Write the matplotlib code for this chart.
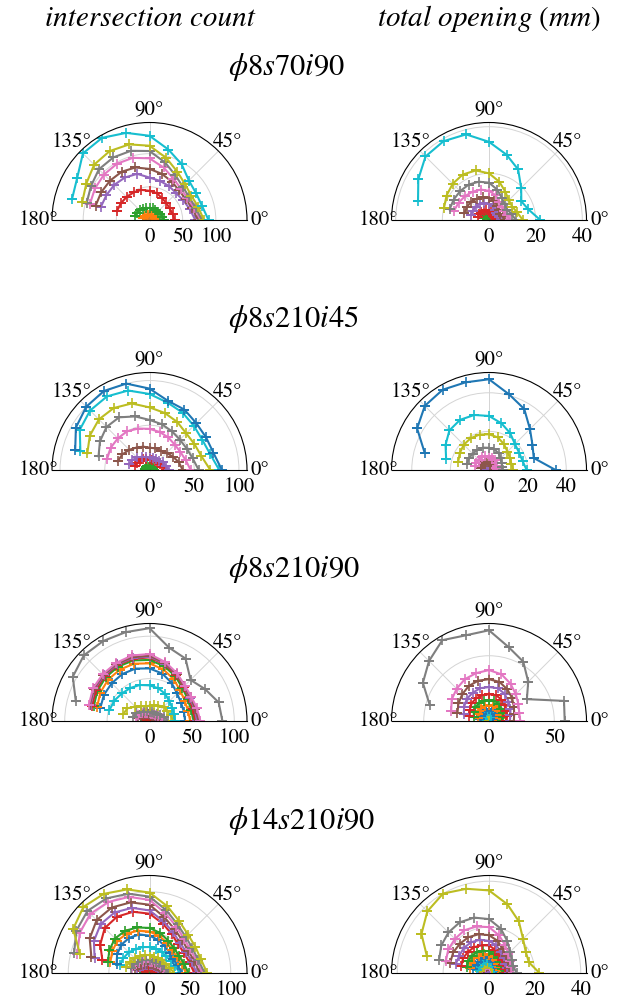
import numpy as np
import matplotlib
matplotlib.use("Agg")
import matplotlib.pyplot as plt

plt.rcParams['font.family'] = ['STIXGeneral', 'DejaVu Serif']
plt.rcParams['mathtext.fontset'] = 'stix'

# orientations of the scan lines (deg)
theta_deg = [0, 15, 30, 45, 60, 75, 90, 105, 120, 135, 150, 165]

col_titles = ['intersection count', 'total opening $(mm)$']
row_titles = [r'$\phi8s70i90$', r'$\phi8s210i45$', r'$\phi8s210i90$', r'$\phi14s210i90$']

# --- phi8 s70 i90 ---
count_8s70i90 = [
    [4, 4, 3, 3, 3, 3, 3, 4, 4, 4, 4, 4],
    [10, 9, 9, 8, 8, 8, 8, 8, 9, 9, 10, 10],
    [22, 20, 19, 18, 18, 18, 18, 19, 20, 21, 22, 23],
    [38, 36, 35, 36, 38, 42, 44, 47, 48, 49, 50, 51],
    [69, 63, 59, 57, 59, 61, 64, 72, 74, 75, 75, 76],
    [73, 67, 63, 63, 67, 72, 77, 82, 84, 84, 84, 84],
    [77, 70, 66, 67, 72, 82, 93, 97, 98, 97, 95, 93],
    [79, 72, 69, 71, 78, 90, 104, 108, 109, 108, 102, 98],
    [82, 76, 73, 76, 84, 97, 112, 118, 120, 118, 110, 105],
    [89, 82, 81, 84, 97, 110, 127, 136, 143, 142, 126, 121],
]
open_8s70i90 = [
    [0.5, 0.5, 0.5, 0.5, 0.5, 0.5, 0.5, 0.5, 0.5, 0.5, 0.5, 0.5],
    [1, 1, 1, 1, 1, 1, 1, 1, 1, 1, 1, 1],
    [1.5, 1.5, 1.5, 1.5, 1.5, 2, 2, 2, 2, 2.5, 2.5, 2.5],
    [3, 2.5, 2.5, 2.5, 3, 3.5, 4, 4.5, 4.5, 5, 5, 5],
    [5, 4.5, 4, 4.5, 5, 6, 7, 7.5, 8, 8, 8, 8],
    [7, 6, 5.5, 6, 7, 8.5, 9.5, 10, 10.5, 11, 11, 11],
    [9, 8, 7.5, 8, 9, 11, 12.5, 13.5, 14, 14.5, 15, 15.5],
    [11.5, 10, 9, 9.5, 11, 13.5, 16, 17, 17.5, 17.5, 17.5, 17.5],
    [14.5, 12.5, 11.5, 12, 14, 17, 20, 22, 22.5, 22, 21, 20],
    [22, 17.5, 16, 19.5, 25, 29, 33.5, 38, 39, 38.5, 35, 31.5],
]

# --- phi8 s210 i45 ---
count_8s210i45 = [
    [1, 1, 1, 1, 1, 1, 1, 1, 1, 1, 1, 1],
    [2, 2, 2, 2, 2, 2, 2, 2, 2, 2, 2, 2],
    [5, 4, 4, 4, 4, 4, 4, 4, 5, 5, 5, 5],
    [18, 15, 13, 12, 12, 12, 12, 13, 14, 15, 16, 17],
    [22, 19, 17, 15, 14, 14, 14, 15, 17, 20, 22, 24],
    [37, 34, 30, 27, 25, 25, 25, 27, 29, 32, 35, 37],
    [46, 42, 40, 40, 42, 44, 46, 48, 50, 50, 50, 49],
    [55, 50, 48, 48, 50, 53, 56, 62, 68, 68, 64, 59],
    [68, 60, 58, 58, 62, 66, 70, 77, 80, 80, 77, 72],
    [78, 70, 68, 70, 74, 78, 85, 92, 95, 94, 90, 80],
    [81, 74, 73, 74, 78, 80, 91, 100, 102, 100, 95, 86],
]
open_8s210i45 = [
    [0.3, 0.3, 0.3, 0.3, 0.3, 0.3, 0.3, 0.3, 0.3, 0.3, 0.3, 0.3],
    [0.5, 0.5, 0.5, 0.5, 0.5, 0.5, 0.5, 0.5, 0.5, 0.5, 0.5, 0.5],
    [0.8, 0.8, 0.8, 0.8, 0.8, 0.8, 0.8, 0.8, 0.8, 0.8, 0.8, 0.8],
    [1, 1, 1, 1, 1, 1, 1, 1, 1, 1, 1, 1],
    [1.5, 1.5, 1.5, 1.5, 2, 2, 2, 2, 2, 2, 2, 2],
    [2.5, 2.5, 3, 3, 3.5, 4, 4, 4.5, 4.5, 4.5, 4.5, 4.5],
    [4, 4, 4.5, 5, 6, 6.5, 7, 7.5, 7.5, 7.5, 7.5, 7.5],
    [7, 7, 7.5, 8.5, 10, 11, 11.5, 12, 12, 12, 12, 12],
    [12.5, 12, 12.5, 13.5, 15.5, 17.5, 18.5, 19, 19, 18.5, 17.5, 16.5],
    [19.5, 18, 18, 19, 22, 25, 28, 29.5, 30, 29, 26, 23],
    [34.5, 24, 26, 30, 36.5, 40.5, 47, 47, 48, 47, 43, 34.5],
]

# --- phi8 s210 i90 ---
count_8s210i90 = [
    [2, 2, 2, 2, 2, 2, 2, 2, 2, 2, 2, 2],
    [4, 3, 3, 3, 3, 3, 3, 3, 3, 3, 4, 4],
    [6, 5, 4, 4, 4, 4, 4, 4, 4, 5, 5, 6],
    [8, 7, 6, 5, 5, 5, 5, 5, 6, 6, 7, 8],
    [16, 13, 11, 9, 8, 8, 8, 8, 9, 11, 13, 15],
    [14, 12, 10, 8, 7, 7, 7, 8, 9, 10, 12, 14],
    [18, 15, 12, 10, 9, 9, 9, 10, 11, 13, 15, 17],
    [22, 18, 14, 12, 11, 11, 11, 12, 13, 15, 18, 20],
    [28, 26, 24, 24, 21, 19, 18, 18, 20, 24, 30, 32],
    [30, 30, 31, 33, 37, 40, 42, 44, 45, 46, 48, 49],
    [42, 42, 43, 46, 52, 58, 62, 64, 64, 63, 62, 60],
    [48, 47, 48, 51, 57, 63, 68, 70, 70, 69, 67, 64],
    [52, 51, 52, 55, 61, 67, 72, 74, 74, 73, 71, 68],
    [54, 53, 54, 57, 63, 69, 75, 76, 76, 75, 73, 70],
    [56, 55, 55, 58, 64, 70, 76, 77, 77, 76, 75, 72],
    [58, 56, 56, 58, 64, 71, 77, 78, 78, 77, 76, 73],
    [60, 58, 57, 59, 65, 72, 79, 80, 79, 78, 77, 74],
    [86, 84.5, 75.5, 68.5, 85, 89.5, 109.5, 108.5, 109, 109.5, 104.5, 90],
]
open_8s210i90 = [
    [1, 1, 1, 1, 1, 1, 1, 1, 1, 1, 1, 1],
    [1.5, 1.5, 1.5, 1.5, 1.5, 1.5, 1.5, 1.5, 1.5, 1.5, 1.5, 1.5],
    [2, 2, 2, 2, 2, 2, 2, 2, 2, 2, 2, 2],
    [2, 2, 2, 2.5, 2.5, 2.5, 2.5, 2.5, 2.5, 2.5, 2.5, 2],
    [2.5, 2.5, 2.5, 3, 3, 3, 3, 3, 3, 3, 3, 2.5],
    [2.5, 3, 3, 3, 3.5, 3.5, 3.5, 3.5, 3.5, 3, 3, 3],
    [3, 3, 3.5, 3.5, 4, 4, 4, 4, 4, 3.5, 3.5, 3],
    [3, 3.5, 3.5, 4, 4, 4.5, 4.5, 4.5, 4, 4, 3.5, 3.5],
    [3, 3.5, 4, 4.5, 5, 5, 5, 5, 4.5, 4, 4, 3.5],
    [4, 5, 5.5, 6.5, 7.5, 8, 8, 7.5, 7, 6.5, 6, 5],
    [6, 6.5, 7, 8, 8.5, 9, 9, 9, 8.5, 8, 7.5, 7],
    [8, 8.5, 9.5, 10.5, 11.5, 12, 12, 12, 11.5, 11, 10, 9],
    [10, 11, 12, 13, 15, 16, 16, 16, 15.5, 15, 13.5, 12],
    [13, 14, 15, 17, 19, 20.5, 20.5, 20.5, 20, 19, 17, 16],
    [16, 17, 19, 21, 24, 26, 26, 26, 25, 24, 22, 20],
    [19, 20, 22, 25, 28, 31, 32, 32, 31, 29, 27, 25],
    [24, 24, 26, 29, 33, 37, 39, 38, 37, 35, 33, 30],
    [58, 59.5, 33.5, 42.5, 52.5, 58.5, 69.5, 68, 71.5, 65, 58.5, 47],
]

# --- phi14 s210 i90 ---
count_14s210i90 = [
    [2, 2, 2, 2, 2, 2, 2, 2, 2, 2, 2, 2],
    [4, 4, 4, 3, 3, 3, 3, 3, 3, 4, 4, 4],
    [7, 6, 6, 5, 5, 5, 5, 5, 5, 6, 6, 7],
    [10, 9, 8, 7, 7, 7, 7, 7, 7, 8, 9, 10],
    [16, 14, 12, 11, 10, 10, 10, 10, 11, 12, 14, 16],
    [18, 16, 14, 12, 11, 11, 11, 12, 13, 14, 16, 18],
    [22, 19, 16, 15, 14, 14, 14, 15, 16, 18, 20, 22],
    [24, 21, 18, 17, 16, 16, 16, 17, 18, 20, 22, 24],
    [30, 26, 23, 22, 21, 21, 22, 23, 24, 26, 28, 30],
    [37, 33, 30, 29, 30, 31, 32, 33, 34, 36, 37, 38],
    [40, 36, 34, 35, 38, 42, 46, 49, 50, 49, 46, 42],
    [45, 41, 39, 40, 43, 47, 51, 54, 56, 56, 53, 50],
    [48, 44, 42, 43, 46, 51, 55.5, 58, 60, 60, 57, 53],
    [55, 51, 49, 50, 55, 63, 73, 78, 80, 78, 70, 60],
    [58, 54, 52, 53, 58, 66, 77, 83, 86, 85, 79, 70],
    [62, 57, 55, 57, 62, 71, 84, 90, 93, 92, 85, 74],
    [65, 60, 58, 60, 66, 76, 90, 97, 101, 103, 99, 92],
    [68, 62, 61, 63, 69, 80, 94, 101, 106, 108, 104, 96],
    [71, 65.5, 65, 67, 73.5, 85, 99, 106.5, 112.5, 115, 108.5, 88.5],
]
open_14s210i90 = [
    [0.5, 0.5, 0.5, 0.5, 0.5, 0.5, 0.5, 0.5, 0.5, 0.5, 0.5, 0.5],
    [1, 1, 1, 1, 1, 1, 1, 1, 1, 1, 1, 1],
    [1.5, 1.5, 1.5, 1.5, 1.5, 1.5, 1.5, 1.5, 1.5, 1.5, 1.5, 1.5],
    [2, 2, 2, 2, 2, 2, 2, 2, 2, 2, 2, 2],
    [2, 2, 2, 2, 2.5, 2.5, 2.5, 2.5, 2.5, 2.5, 2.5, 2.5],
    [2.5, 2.5, 2.5, 2.5, 3, 3, 3, 3, 3, 3, 3, 3],
    [2.5, 2.5, 2.5, 3, 3, 3, 3.5, 3.5, 3.5, 3.5, 3.5, 3.5],
    [3, 3, 3, 3, 3.5, 3.5, 4, 4, 4, 4, 4, 4],
    [3, 3, 3, 3, 3.5, 3.5, 4, 4, 4, 4, 4, 4],
    [4, 4, 4, 4, 4.5, 5, 5, 5.5, 5.5, 5.5, 5.5, 5.5],
    [5, 4.5, 4.5, 5, 5.5, 6, 6.5, 7, 7, 7, 7, 7],
    [5.5, 5, 5, 5.5, 6.5, 7, 8, 8.5, 8.5, 9, 9, 8.5],
    [6.5, 6, 6, 7, 7.5, 8.5, 9.5, 10, 10.5, 10.5, 10.5, 10],
    [7.5, 7, 7, 8, 9, 10.5, 12, 12.5, 13, 13, 13, 12.5],
    [8.5, 8, 8, 9, 10.5, 12.5, 14, 15, 15.5, 15.5, 15, 15],
    [9.5, 9, 9.5, 10.5, 12, 14.5, 16.5, 17.5, 18, 18, 18, 17.5],
    [10.5, 10, 10.5, 12, 14, 17, 20, 21, 21.5, 21, 20.5, 19.5],
    [12, 11, 11.5, 13, 16, 20, 23.5, 25, 25.5, 25, 24, 22.5],
    [22, 18, 18.5, 21, 26, 31, 36, 38, 40, 38, 34, 28],
]

count_data = [count_8s70i90, count_8s210i45, count_8s210i90, count_14s210i90]
open_data = [open_8s70i90, open_8s210i45, open_8s210i90, open_14s210i90]
count_rmax = [147, 109, 115, 120]
open_rmax = [41.8, 50.5, 74.7, 42.5]
count_rticks = [[0, 50, 100], [0, 50, 100], [0, 50, 100], [0, 50, 100]]
open_rticks = [[0, 20, 40], [0, 20, 40], [0, 50], [0, 20, 40]]

W, H = 626, 1005
fig = plt.figure(figsize=(W / 100, H / 100), dpi=100)

R = 97.5
col_cx = [149.5, 489]
row_base = [220, 470, 721, 973]
title_y = [75, 327, 577, 829]

th = np.deg2rad(theta_deg)


def half_polar(cx, base, series, rmax, rticks):
    # a half wedge is centred in a square box, origin at 1/4 height
    ax = fig.add_axes([(cx - R) / W, 1 - (base + 0.5 * R) / H, 2 * R / W, 2 * R / H],
                      projection='polar')
    ax.set_thetamin(0)
    ax.set_thetamax(180)
    for i, r in enumerate(series):
        ax.plot(th, r, marker='+', ms=7, mew=1.2, lw=1.5,
                color='C%d' % (i % 10))
    ax.set_rlim(0, rmax)
    ax.set_rticks(rticks)
    ax.set_thetagrids([0, 45, 90, 135, 180])
    ax.grid(color='#d4d4d4', lw=0.7)
    ax.tick_params(axis='x', labelsize=15, pad=-1)
    ax.tick_params(axis='y', labelsize=15, pad=2)
    for sp in ax.spines.values():
        sp.set_linewidth(0.8)
        sp.set_color('black')
    return ax


for k in range(4):
    half_polar(col_cx[0], row_base[k], count_data[k], count_rmax[k], count_rticks[k])
    half_polar(col_cx[1], row_base[k], open_data[k], open_rmax[k], open_rticks[k])
    fig.text(228 / W, 1 - title_y[k] / H, row_titles[k], fontsize=22,
             ha='left', va='baseline')

for j, t in enumerate(col_titles):
    fig.text(col_cx[j] / W, 1 - 26 / H, t, fontsize=21, style='italic',
             ha='center', va='baseline')

fig.savefig('out.png', dpi=100)
